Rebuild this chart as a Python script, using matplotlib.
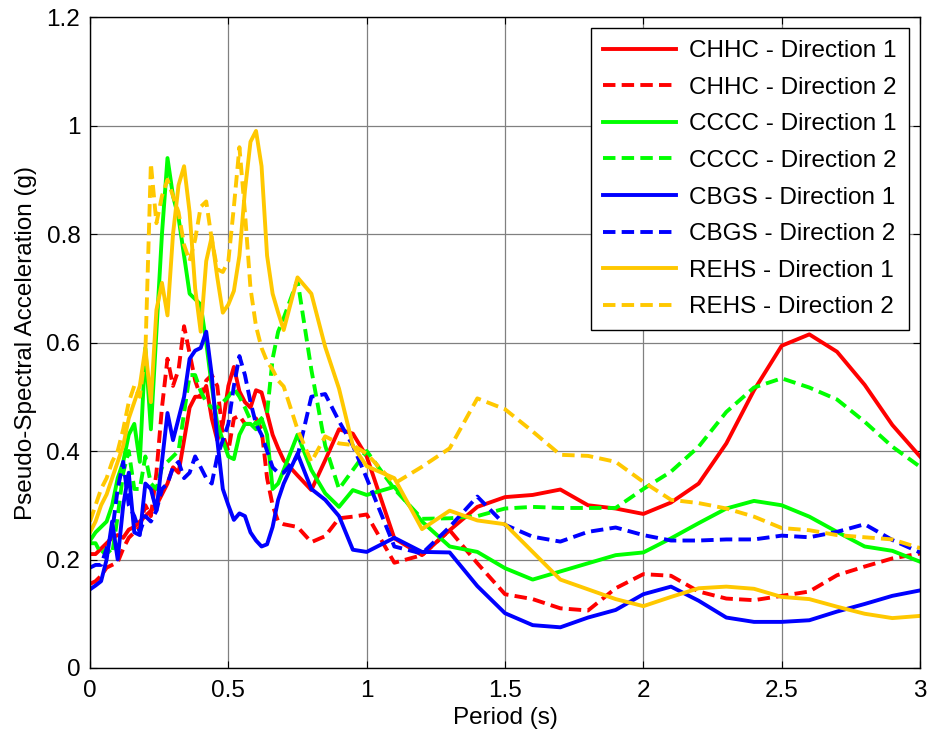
import matplotlib
matplotlib.use("Agg")
import matplotlib.pyplot as plt

plt.rcParams['font.family'] = ['Liberation Sans', 'DejaVu Sans']

period = [0.00, 0.02, 0.04, 0.06, 0.08, 0.10, 0.12, 0.14, 0.16, 0.18,
          0.20, 0.22, 0.24, 0.26, 0.28, 0.30, 0.32, 0.34, 0.36, 0.38,
          0.40, 0.42, 0.44, 0.46, 0.48, 0.50, 0.52, 0.54, 0.56, 0.58,
          0.60, 0.62, 0.64, 0.66, 0.68, 0.70, 0.75, 0.80, 0.85, 0.90,
          0.95, 1.00, 1.1, 1.2, 1.3, 1.4, 1.5, 1.6, 1.7, 1.8,
          1.9, 2.0, 2.1, 2.2, 2.3, 2.4, 2.5, 2.6, 2.7, 2.8,
          2.9, 3.0]

chhc_1 = [0.21, 0.21, 0.22, 0.23, 0.24, 0.245, 0.24, 0.255, 0.26, 0.27,
          0.28, 0.29, 0.30, 0.32, 0.34, 0.37, 0.36, 0.42, 0.48, 0.50,
          0.50, 0.52, 0.46, 0.42, 0.45, 0.52, 0.555, 0.51, 0.49, 0.48,
          0.512, 0.508, 0.47, 0.43, 0.405, 0.383, 0.355, 0.328, 0.383, 0.44,
          0.432, 0.39, 0.239, 0.208, 0.254, 0.297, 0.315, 0.319, 0.329, 0.300,
          0.294, 0.284, 0.305, 0.340, 0.414, 0.512, 0.594, 0.615, 0.583, 0.522,
          0.448, 0.390]

chhc_2 = [0.155, 0.16, 0.17, 0.185, 0.19, 0.195, 0.22, 0.24, 0.25, 0.26,
          0.30, 0.28, 0.36, 0.48, 0.57, 0.52, 0.55, 0.63, 0.58, 0.53,
          0.50, 0.53, 0.54, 0.52, 0.43, 0.40, 0.46, 0.465, 0.45, 0.45,
          0.46, 0.44, 0.35, 0.30, 0.27, 0.265, 0.26, 0.232, 0.243, 0.276,
          0.279, 0.283, 0.194, 0.208, 0.254, 0.193, 0.136, 0.127, 0.110, 0.106,
          0.147, 0.173, 0.170, 0.141, 0.128, 0.125, 0.133, 0.141, 0.171, 0.187,
          0.202, 0.211]

cccc_1 = [0.235, 0.25, 0.26, 0.27, 0.30, 0.35, 0.38, 0.43, 0.45, 0.38,
          0.59, 0.44, 0.62, 0.80, 0.94, 0.87, 0.83, 0.76, 0.69, 0.68,
          0.67, 0.60, 0.52, 0.45, 0.42, 0.39, 0.385, 0.43, 0.45, 0.45,
          0.44, 0.46, 0.43, 0.33, 0.34, 0.365, 0.43, 0.365, 0.322, 0.297,
          0.328, 0.319, 0.334, 0.270, 0.224, 0.214, 0.184, 0.163, 0.178, 0.193,
          0.208, 0.213, 0.239, 0.267, 0.294, 0.308, 0.300, 0.279, 0.251, 0.224,
          0.216, 0.196]

cccc_2 = [0.23, 0.23, 0.21, 0.22, 0.21, 0.28, 0.36, 0.40, 0.33, 0.33,
          0.39, 0.34, 0.33, 0.37, 0.38, 0.39, 0.40, 0.47, 0.54, 0.54,
          0.51, 0.49, 0.48, 0.48, 0.49, 0.50, 0.515, 0.50, 0.48, 0.457,
          0.45, 0.46, 0.47, 0.57, 0.62, 0.645, 0.715, 0.55, 0.41, 0.33,
          0.365, 0.40, 0.33, 0.275, 0.276, 0.28, 0.294, 0.297, 0.295, 0.295,
          0.295, 0.33, 0.362, 0.408, 0.472, 0.517, 0.534, 0.517, 0.495, 0.454,
          0.408, 0.371]

cbgs_1 = [0.145, 0.152, 0.16, 0.20, 0.27, 0.20, 0.30, 0.36, 0.25, 0.245,
          0.34, 0.33, 0.29, 0.38, 0.47, 0.42, 0.46, 0.50, 0.57, 0.585,
          0.59, 0.62, 0.54, 0.42, 0.33, 0.30, 0.273, 0.285, 0.28, 0.25,
          0.235, 0.224, 0.228, 0.26, 0.31, 0.34, 0.395, 0.33, 0.31, 0.28,
          0.218, 0.214, 0.240, 0.214, 0.213, 0.151, 0.101, 0.079, 0.075, 0.093,
          0.107, 0.136, 0.150, 0.124, 0.093, 0.085, 0.085, 0.088, 0.104, 0.118,
          0.133, 0.143]

cbgs_2 = [0.185, 0.19, 0.19, 0.22, 0.25, 0.33, 0.38, 0.30, 0.28, 0.25,
          0.28, 0.27, 0.29, 0.33, 0.34, 0.37, 0.38, 0.35, 0.36, 0.39,
          0.37, 0.35, 0.34, 0.39, 0.42, 0.45, 0.52, 0.575, 0.54, 0.49,
          0.45, 0.43, 0.40, 0.37, 0.36, 0.36, 0.39, 0.50, 0.505, 0.455,
          0.41, 0.35, 0.224, 0.211, 0.260, 0.316, 0.264, 0.242, 0.233, 0.251,
          0.259, 0.245, 0.235, 0.235, 0.237, 0.237, 0.244, 0.241, 0.251, 0.265,
          0.236, 0.213]

rehs_1 = [0.25, 0.27, 0.30, 0.32, 0.35, 0.38, 0.41, 0.46, 0.49, 0.52,
          0.59, 0.49, 0.66, 0.71, 0.65, 0.80, 0.89, 0.925, 0.84, 0.70,
          0.62, 0.75, 0.795, 0.72, 0.655, 0.67, 0.695, 0.76, 0.88, 0.97,
          0.99, 0.925, 0.76, 0.69, 0.655, 0.623, 0.72, 0.69, 0.592, 0.515,
          0.41, 0.372, 0.350, 0.256, 0.290, 0.272, 0.265, 0.214, 0.163, 0.145,
          0.127, 0.114, 0.131, 0.147, 0.150, 0.146, 0.131, 0.127, 0.113, 0.100,
          0.092, 0.096]

rehs_2 = [0.27, 0.30, 0.33, 0.35, 0.38, 0.40, 0.44, 0.49, 0.52, 0.50,
          0.58, 0.93, 0.82, 0.87, 0.90, 0.87, 0.84, 0.78, 0.75, 0.79,
          0.85, 0.86, 0.79, 0.735, 0.73, 0.75, 0.85, 0.96, 0.84, 0.70,
          0.63, 0.59, 0.565, 0.55, 0.53, 0.519, 0.44, 0.38, 0.427, 0.414,
          0.411, 0.395, 0.340, 0.371, 0.405, 0.497, 0.477, 0.436, 0.393, 0.391,
          0.380, 0.343, 0.310, 0.304, 0.294, 0.279, 0.258, 0.254, 0.245, 0.241,
          0.237, 0.221]

labels = ['CHHC - Direction 1', 'CHHC - Direction 2',
          'CCCC - Direction 1', 'CCCC - Direction 2',
          'CBGS - Direction 1', 'CBGS - Direction 2',
          'REHS - Direction 1', 'REHS - Direction 2']
series = [chhc_1, chhc_2, cccc_1, cccc_2, cbgs_1, cbgs_2, rehs_1, rehs_2]
colors = ['#FF0000', '#FF0000', '#00FF00', '#00FF00',
          '#0000FF', '#0000FF', '#FFC800', '#FFC800']
styles = ['-', '--', '-', '--', '-', '--', '-', '--']

xticks = [0, 0.5, 1, 1.5, 2, 2.5, 3]
xticklabels = ['0', '0.5', '1', '1.5', '2', '2.5', '3']
yticks = [0, 0.2, 0.4, 0.6, 0.8, 1.0, 1.2]
yticklabels = ['0', '0.2', '0.4', '0.6', '0.8', '1', '1.2']

FS = 17.5

fig = plt.figure(figsize=(9.29, 7.40), dpi=100)
ax = fig.add_axes([0.0969, 0.0973, 0.8934, 0.8797])

for y, lab, c, ls in zip(series, labels, colors, styles):
    if ls == '--':
        ax.plot(period, y, color=c, linestyle='--', dashes=(3.2, 1.6),
                linewidth=2.8, label=lab)
    else:
        ax.plot(period, y, color=c, linestyle='-', linewidth=2.8, label=lab)

ax.set_xlim(0, 3)
ax.set_ylim(0, 1.2)
ax.set_xticks(xticks)
ax.set_xticklabels(xticklabels)
ax.set_yticks(yticks)
ax.set_yticklabels(yticklabels)
ax.tick_params(direction='in', top=True, right=True, labelsize=FS, length=5)
ax.tick_params(axis='x', pad=9)
ax.tick_params(axis='y', pad=7)
ax.grid(True, color='#808080', linewidth=0.9)
ax.set_axisbelow(True)
for s in ax.spines.values():
    s.set_linewidth(1.0)
ax.set_xlabel('Period (s)', fontsize=FS, labelpad=3)
ax.set_ylabel('Pseudo-Spectral Acceleration (g)', fontsize=FS, labelpad=7)

leg = ax.legend(loc='upper right', fontsize=FS, frameon=True, fancybox=False,
                edgecolor='black', framealpha=1, handlelength=3.0,
                handletextpad=0.55, borderpad=0.5,
                borderaxespad=0.45, labelspacing=0.6)
leg.get_frame().set_linewidth(1.0)

fig.savefig('out.png', dpi=100)
